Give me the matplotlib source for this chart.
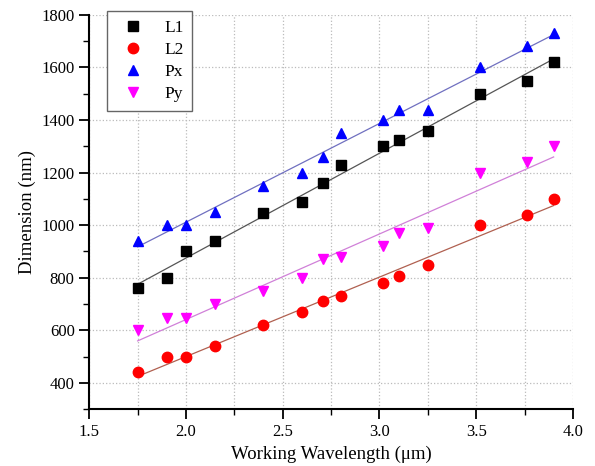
import matplotlib
matplotlib.use("Agg")
import matplotlib.pyplot as plt
import matplotlib.ticker as mticker
import numpy as np

plt.rcParams['font.family'] = ['Liberation Serif', 'DejaVu Serif']

# ── Data ────────────────────────────────────────────────────────────────
wavelength = [1.75, 1.90, 2.00, 2.15, 2.40, 2.60, 2.71, 2.80, 3.02, 3.10, 3.25, 3.52, 3.76, 3.90]
L1 = [760, 800, 900, 940, 1045, 1090, 1160, 1230, 1300, 1325, 1360, 1500, 1550, 1620]
L2 = [440, 500, 500, 540, 620, 670, 710, 730, 780, 805, 850, 1000, 1040, 1100]
Px = [940, 1000, 1000, 1050, 1150, 1200, 1260, 1350, 1400, 1440, 1440, 1600, 1680, 1730]
Py = [600, 645, 645, 700, 750, 800, 870, 880, 920, 970, 990, 1200, 1240, 1300]

series = [
    ('L1', L1, 's', 'black', '#555555'),
    ('L2', L2, 'o', 'red', '#b06050'),
    ('Px', Px, '^', 'blue', '#7070c0'),
    ('Py', Py, 'v', 'magenta', '#d080d8'),
]

fig = plt.figure(figsize=(5.95, 4.66), dpi=100)
ax = fig.add_axes([0.150, 0.122, 0.813, 0.846])

x = np.array(wavelength)
for name, vals, marker, color, fitcolor in series:
    ax.plot(x, vals, linestyle='none', marker=marker, color=color,
            markersize=7.5, label=name, zorder=3)
    k, b = np.polyfit(x, vals, 1)
    ax.plot([x.min(), x.max()], [k * x.min() + b, k * x.max() + b],
            color=fitcolor, linewidth=0.9, zorder=2)

ax.set_xlim(1.5, 4.0)
ax.set_ylim(300, 1800)
ax.xaxis.set_major_locator(mticker.MultipleLocator(0.5))
ax.xaxis.set_minor_locator(mticker.MultipleLocator(0.25))
ax.yaxis.set_major_locator(mticker.MultipleLocator(200))
ax.yaxis.set_minor_locator(mticker.MultipleLocator(100))
ax.xaxis.set_major_formatter(mticker.FormatStrFormatter('%.1f'))

ax.grid(True, which='major', axis='y', linestyle=':', color='#bbbbbb', linewidth=0.9)
ax.grid(True, which='both', axis='x', linestyle=':', color='#bbbbbb', linewidth=0.9)
ax.set_axisbelow(True)

for s in ('top', 'right'):
    ax.spines[s].set_visible(False)
for s in ('left', 'bottom'):
    ax.spines[s].set_linewidth(1.5)

ax.tick_params(which='major', direction='out', length=7, width=1.3, labelsize=12)
ax.tick_params(which='minor', direction='out', length=4, width=1.0)

ax.set_xlabel('Working Wavelength (\u03bcm)', fontsize=13.5)
ax.set_ylabel('Dimension (nm)', fontsize=13.5)

leg = ax.legend(loc='upper left', bbox_to_anchor=(0.037, 1.01), borderaxespad=0,
                fontsize=12.5, fancybox=False, edgecolor='#666666', framealpha=1,
                handletextpad=0.8, borderpad=0.5, labelspacing=0.35)
leg.get_frame().set_linewidth(1.0)

fig.savefig('out.png', dpi=100)
